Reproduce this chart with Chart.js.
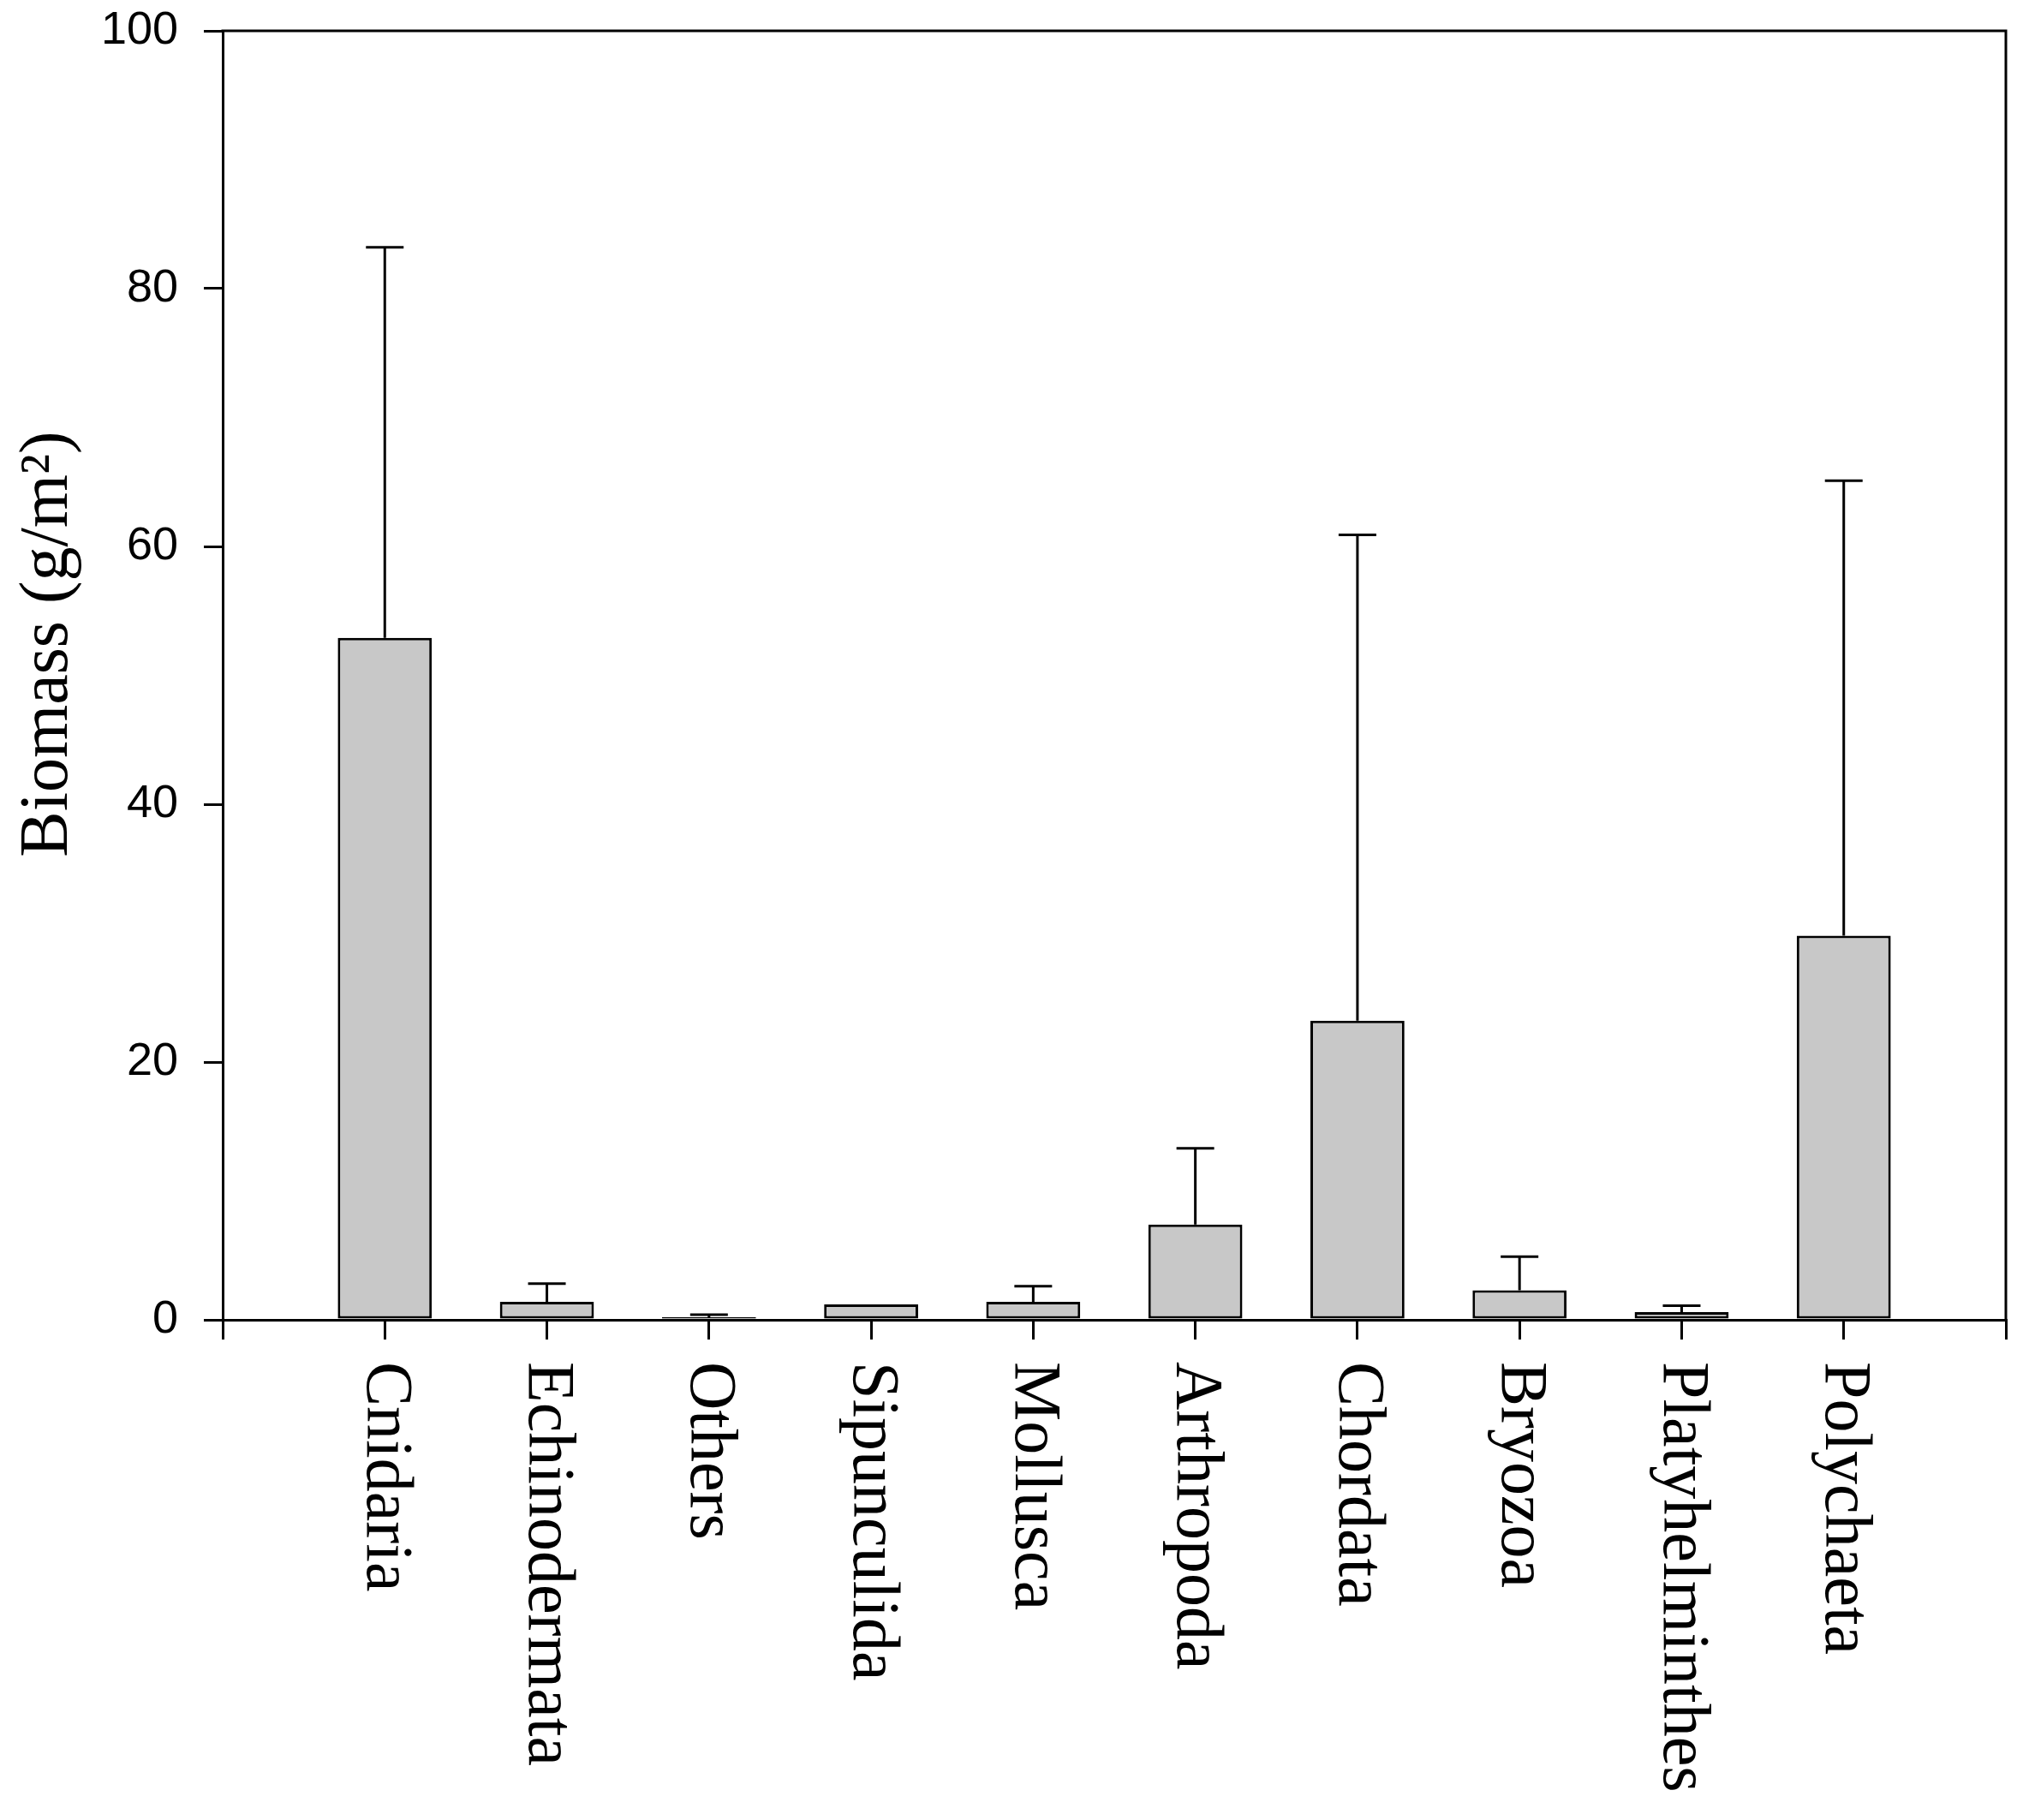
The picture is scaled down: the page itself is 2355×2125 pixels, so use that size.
<!DOCTYPE html>
<html><head><meta charset="utf-8">
<script src="https://cdn.jsdelivr.net/npm/chart.js@4/dist/chart.umd.min.js"></script>
<style>html,body{margin:0;padding:0;background:#fff;}#wrap{width:2355px;height:2125px;}</style>
</head><body><div id="wrap"><canvas id="c" width="2355" height="2125"></canvas></div>
<script>
const categories = ['Cnidaria','Echinodermata','Others','Sipunculida','Mollusca','Arthropoda','Chordata','Bryozoa','Platyhelminthes','Polychaeta'];
const meanBiomass = [52.9, 1.4, 0.2, 1.2, 1.4, 7.4, 23.2, 2.3, 0.6, 29.8];
const errorUpper = [30.3, 1.4, 0.2, 0, 1.2, 5.9, 37.7, 2.6, 0.5, 35.3];
const yTickValues = [0, 20, 40, 60, 80, 100];
const yTitle = 'Biomass (g/m\u00B2)';

const axisLabels = [''].concat(categories, ['']);
const barData = [null].concat(meanBiomass, [null]);

const frameAndText = {
  id: 'frameAndText',
  afterDatasetsDraw(chart) {
    const ctx = chart.ctx;
    const y = chart.scales.y;
    const meta = chart.getDatasetMeta(0);
    ctx.save();
    ctx.strokeStyle = '#000';
    ctx.lineWidth = 3;
    meanBiomass.forEach((m, i) => {
      const e = errorUpper[i];
      if (!e) return;
      const bar = meta.data[i + 1];
      const x = bar.x;
      const y0 = y.getPixelForValue(m);
      const y1 = y.getPixelForValue(m + e);
      ctx.beginPath();
      ctx.moveTo(x, y0);
      ctx.lineTo(x, y1);
      ctx.moveTo(x - 22, y1);
      ctx.lineTo(x + 22, y1);
      ctx.stroke();
    });
    ctx.restore();
  },
  afterDraw(chart) {
    const ctx = chart.ctx;
    const a = chart.chartArea;
    const xs = chart.scales.x;
    ctx.save();
    ctx.strokeStyle = '#000';
    ctx.lineWidth = 3;
    ctx.beginPath();
    ctx.moveTo(a.left - 1.5, a.top);
    ctx.lineTo(a.right, a.top);
    ctx.lineTo(a.right, a.bottom);
    ctx.stroke();
    // category labels, rotated clockwise
    ctx.fillStyle = '#000';
    ctx.font = '78px "Liberation Serif", "Times New Roman", serif';
    ctx.textAlign = 'left';
    ctx.textBaseline = 'middle';
    axisLabels.forEach((lab, i) => {
      if (!lab) return;
      const x = xs.getPixelForTick(i);
      ctx.save();
      ctx.translate(x, a.bottom + 49);
      ctx.rotate(Math.PI / 2);
      ctx.fillText(lab, 0, 0);
      ctx.restore();
    });
    // y title
    ctx.font = '80px "Liberation Serif", "Times New Roman", serif';
    ctx.textAlign = 'center';
    ctx.textBaseline = 'alphabetic';
    ctx.translate(78, 752);
    ctx.rotate(-Math.PI / 2);
    ctx.fillText(yTitle, 0, 0);
    ctx.restore();
  }
};

new Chart(document.getElementById('c'), {
  type: 'bar',
  data: {
    labels: axisLabels,
    datasets: [{
      data: barData,
      backgroundColor: '#c8c8c8',
      borderColor: '#000',
      borderWidth: 3,
      borderSkipped: false,
      barPercentage: 0.58,
      categoryPercentage: 1.0
    }]
  },
  options: {
    responsive: false,
    animation: false,
    devicePixelRatio: 1,
    layout: { padding: { top: 36, right: 13, left: 0, bottom: 0 } },
    plugins: { legend: { display: false }, tooltip: { enabled: false } },
    scales: {
      x: {
        type: 'category',
        offset: false,
        grid: { offset: false, drawOnChartArea: false, drawTicks: true, tickLength: 23, color: '#000', lineWidth: 3 },
        border: { display: true, color: '#000', width: 3 },
        ticks: { display: false, autoSkip: false },
        afterFit(s) { s.height = 2125 - 1541; s.paddingLeft = 0; s.paddingRight = 0; }
      },
      y: {
        type: 'linear',
        min: 0,
        max: 100,
        afterBuildTicks(s) { s.ticks = yTickValues.map(v => ({ value: v })); },
        ticks: {
          color: '#000',
          padding: 30,
          font: { family: '"Liberation Sans", Arial, sans-serif', size: 54 }
        },
        grid: { drawOnChartArea: false, drawTicks: true, tickLength: 22, color: '#000', lineWidth: 3 },
        border: { display: true, color: '#000', width: 3 },
        afterFit(s) { s.width = 260; s.paddingTop = 0; s.paddingBottom = 0; }
      }
    }
  },
  plugins: [frameAndText]
});
</script>
</body></html>
